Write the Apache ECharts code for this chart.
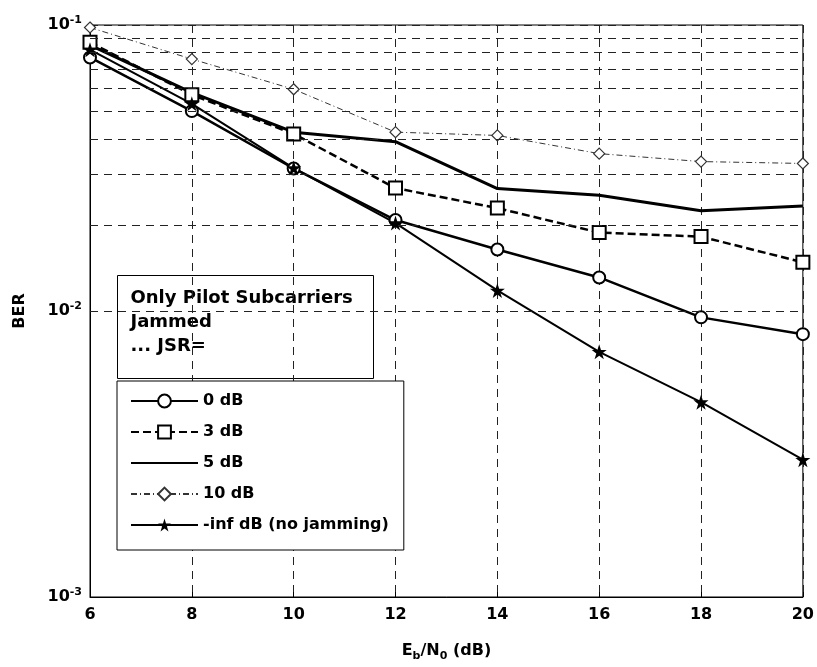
<!DOCTYPE html>
<html>
<head>
<meta charset="utf-8">
<script src="https://cdn.jsdelivr.net/npm/echarts@6/dist/echarts.min.js"></script>
<style>html,body{margin:0;padding:0;background:#fff;}#c{width:817px;height:667px;}</style>
</head>
<body>
<div id="c"></div>
<script>
var ebn0 = [6, 8, 10, 12, 14, 16, 18, 20];
var ber0dB = [0.077, 0.050, 0.0315, 0.0208, 0.0164, 0.0131, 0.0095, 0.0083];
var ber3dB = [0.087, 0.057, 0.0416, 0.0269, 0.0229, 0.0188, 0.0182, 0.0148];
var ber5dB = [0.085, 0.058, 0.0422, 0.0391, 0.0268, 0.0254, 0.0224, 0.0233];
var ber10dB = [0.098, 0.076, 0.0596, 0.0422, 0.0411, 0.0355, 0.0333, 0.0328];
var berInf = [0.082, 0.053, 0.0316, 0.0203, 0.0118, 0.0072, 0.0048, 0.00302];
var seriesNames = ['0 dB', '3 dB', '5 dB', '10 dB', '-inf dB (no jamming)'];
var minorGrid = [0.002, 0.003, 0.004, 0.005, 0.006, 0.007, 0.008, 0.009,
                 0.02, 0.03, 0.04, 0.05, 0.06, 0.07, 0.08, 0.09];
var yTickExp = {'0.1': '-1', '0.01': '-2', '0.001': '-3'};

var FONT = 'DejaVu Sans';
function pairs(ys) { return ebn0.map(function (x, i) { return [x, ys[i]]; }); }
var starPath = 'path://M50,0 L61.8,35.4 L100,35.4 L69.1,57.3 L80.9,93.3 L50,71.4 L19.1,93.3 L30.9,57.3 L0,35.4 L38.2,35.4 Z';
var gridDash = {color: '#222', width: 1, type: [8, 6]};

var chart = echarts.init(document.getElementById('c'), null, {renderer: 'canvas'});
chart.setOption({
  backgroundColor: '#fff',
  animation: false,
  grid: {left: 90, right: 13, top: 25, bottom: 64, show: true, borderColor: '#000', borderWidth: 1, backgroundColor: 'transparent'},
  xAxis: {
    type: 'value', min: 6, max: 20, interval: 2,
    axisLine: {show: true, lineStyle: {color: '#000', width: 1}},
    axisTick: {show: true, inside: true, length: 5, lineStyle: {color: '#000'}},
    axisLabel: {color: '#000', fontFamily: FONT, fontWeight: 'bold', fontSize: 16, margin: 10},
    splitLine: {show: true, lineStyle: gridDash},
    name: '{a|E}{s|b}{a|/N}{s|0}{a| (dB)}',
    nameLocation: 'middle', nameGap: 42,
    nameTextStyle: {rich: {a: {fontFamily: FONT, fontWeight: 'bold', fontSize: 16, color: '#000'}, s: {fontFamily: FONT, fontWeight: 'bold', fontSize: 11, color: '#000', padding: [12, 0, 0, 0]}}}
  },
  yAxis: {
    type: 'log', logBase: 10, min: 0.001, max: 0.1,
    axisLine: {show: true, lineStyle: {color: '#000', width: 1}},
    axisTick: {show: true, inside: true, length: 5, lineStyle: {color: '#000'}},
    axisLabel: {
      color: '#000', margin: 8,
      formatter: function (v) {
        var k = String(+v.toPrecision(3));
        var e = yTickExp[k] || String(Math.round(Math.log10(v)));
        return '{b|10}{p|' + e + '}';
      },
      rich: {b: {fontFamily: FONT, fontWeight: 'bold', fontSize: 16, color: '#000'}, p: {fontFamily: FONT, fontWeight: 'bold', fontSize: 11, color: '#000', padding: [0, 0, 10, 0]}}
    },
    splitLine: {show: true, lineStyle: gridDash},
    name: 'BER', nameLocation: 'middle', nameGap: 62, nameRotate: 90,
    nameTextStyle: {fontFamily: FONT, fontSize: 16, fontWeight: 'bold', color: '#000'}
  },
  legend: {
    orient: 'vertical', left: 117, top: 381,
    itemWidth: 67, itemHeight: 16, itemGap: 15,
    padding: [12, 15, 17, 13],
    borderColor: '#000', borderWidth: 1, backgroundColor: '#fff',
    textStyle: {fontFamily: FONT, fontSize: 16, fontWeight: 'bold', color: '#000'},
    data: seriesNames
  },
  graphic: [{
    type: 'group', left: 117, top: 275, z: 100,
    children: [
      {type: 'rect', shape: {x: 0, y: 0, width: 256, height: 103}, style: {fill: '#fff', stroke: '#000', lineWidth: 1}},
      {type: 'text', x: 13, y: 11, style: {text: 'Only Pilot Subcarriers\nJammed\n... JSR=', font: 'bold 18px "DejaVu Sans"', lineHeight: 24, fill: '#000'}}
    ]
  }],
  series: [
    {name: seriesNames[0], type: 'line', data: pairs(ber0dB), symbol: 'circle', symbolSize: 12, showAllSymbol: true,
     lineStyle: {color: '#000', width: 2.5}, itemStyle: {color: '#fff', borderColor: '#000', borderWidth: 2},
     markLine: {silent: true, symbol: 'none', label: {show: false}, lineStyle: gridDash,
                data: minorGrid.map(function (v) { return {yAxis: v}; })}},
    {name: seriesNames[1], type: 'line', data: pairs(ber3dB), symbol: 'rect', symbolSize: 13, showAllSymbol: true,
     lineStyle: {color: '#000', width: 2.5, type: [8, 4]}, itemStyle: {color: '#fff', borderColor: '#000', borderWidth: 2}},
    {name: seriesNames[2], type: 'line', data: pairs(ber5dB), symbol: 'none',
     lineStyle: {color: '#000', width: 3}, itemStyle: {color: 'rgba(0,0,0,0)', borderWidth: 0}},
    {name: seriesNames[3], type: 'line', data: pairs(ber10dB), symbol: 'diamond', symbolSize: 11, showAllSymbol: true,
     lineStyle: {color: '#333', width: 1, type: [6, 3, 1, 3]}, itemStyle: {color: '#fff', borderColor: '#333', borderWidth: 1.2}},
    {name: seriesNames[4], type: 'line', data: pairs(berInf), symbol: starPath, symbolSize: 15, showAllSymbol: true,
     lineStyle: {color: '#000', width: 2}, itemStyle: {color: '#000', borderColor: '#000', borderWidth: 0}}
  ]
});
</script>
</body>
</html>
